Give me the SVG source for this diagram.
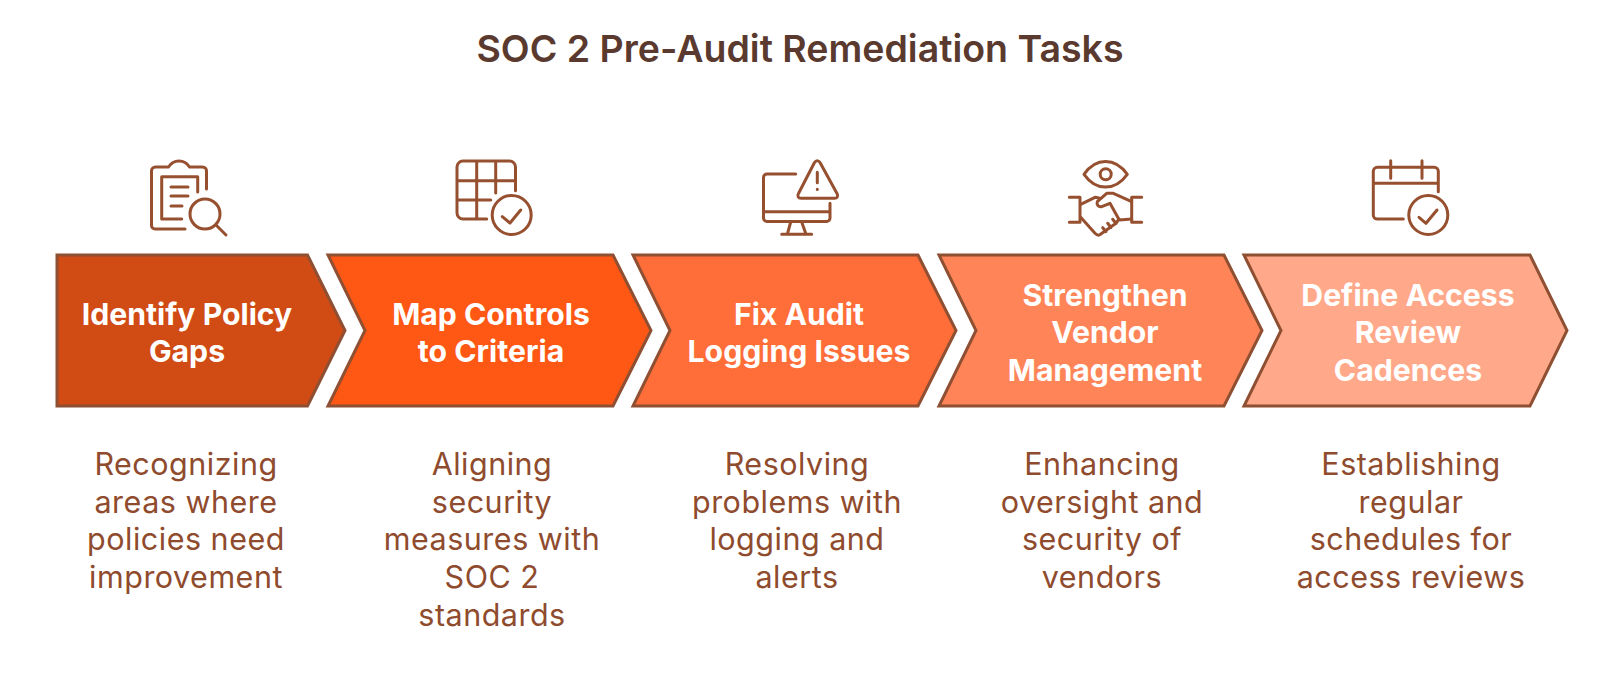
<svg xmlns="http://www.w3.org/2000/svg" width="1600" height="686" viewBox="0 0 1600 686">
<style>
text{font-family:Inter,"Liberation Sans",sans-serif;text-anchor:middle}
.t{font-size:37.500px;font-weight:600;fill:#5a3a2e}
.h{font-size:30.200px;font-weight:700;fill:#fff}
.d{font-size:30.500px;font-weight:400;fill:#8f4b2d;letter-spacing:.5px}
.s{stroke:#8f4f32;stroke-width:3}
.i{fill:none;stroke:#96502f;stroke-width:3;stroke-linecap:round;stroke-linejoin:round}
</style>
<rect width="1600" height="686" fill="#fff"/>
<text class="t" x="800" y="62">SOC 2 Pre-Audit Remediation Tasks</text>
<g id="connectors"/>
<g id="node1">
<path class="i" d="M185 229H155a3.500 3.500 0 0 1-3.500-3.500V171a4 4 0 0 1 4-4h13c5-8 16-8 21 0h13a4 4 0 0 1 4 4v18M197.700 192V176.700H161.700V219h20M171 187h17M171 196h17M171 206h11"/>
<circle class="i" cx="205" cy="214" r="15"/><path class="i" d="M216 225l10 10"/>
<path class="s" fill="#d14b14" d="M57 255H307.500L345 330.500 307.500 406H57Z"/>
<text class="h"><tspan x="187" y="325">Identify Policy</tspan><tspan x="187" y="362">Gaps</tspan></text>
<text class="d"><tspan x="186" y="475">Recognizing</tspan><tspan x="186" y="513">areas where</tspan><tspan x="186" y="550">policies need</tspan><tspan x="186" y="588">improvement</tspan></text>
</g>
<g id="node2">
<path class="i" d="M486.700 219H463a6 6 0 0 1-6-6V167a6 6 0 0 1 6-6h46.500a6 6 0 0 1 6 6v23.700M457 180.700h58.500M457 200h33.700M476.700 161v58M495.700 161v32"/>
<circle class="i" cx="511.700" cy="215" r="19.500"/><path class="i" d="M502.300 216.700l7.700 6.300 10.700-13"/>
<path class="s" fill="#ff5714" d="M328 255H613L651 330.500 613 406H328L365 330.500Z"/>
<text class="h"><tspan x="491" y="325">Map Controls</tspan><tspan x="491" y="362">to Criteria</tspan></text>
<text class="d"><tspan x="492" y="475">Aligning</tspan><tspan x="492" y="513">security</tspan><tspan x="492" y="550">measures with</tspan><tspan x="492" y="588">SOC 2</tspan><tspan x="492" y="626">standards</tspan></text>
</g>
<g id="node3">
<path class="i" d="M795.700 174H767a3.500 3.500 0 0 0-3.500 3.500V218a3.500 3.500 0 0 0 3.500 3.500H826.500a3.500 3.500 0 0 0 3.500-3.500V203.300M763.500 211.700h66.500M790.700 222l-3.400 12.300M801.700 222l4.300 12.300M781.700 234.300h30"/>
<path class="i" d="M814.500 162.500c1.500-2.400 4-2.400 5.500 0l17 31c1.500 2.600.3 4.800-2.500 4.800H801c-2.800 0-4-2.200-2.500-4.800ZM817.300 172.300v10.400M817.300 189.300v.2"/>
<path class="s" fill="#ff6d38" d="M633 255H918L956 330.500 918 406H633L670 330.500Z"/>
<text class="h"><tspan x="799" y="325">Fix Audit</tspan><tspan x="799" y="362">Logging Issues</tspan></text>
<text class="d"><tspan x="797" y="475">Resolving</tspan><tspan x="797" y="513">problems with</tspan><tspan x="797" y="550">logging and</tspan><tspan x="797" y="588">alerts</tspan></text>
</g>
<g id="node4">
<path class="i" d="M1084 174.300c12-17 31-17 43.300 0-12.300 17-31.300 17-43.300 0Z"/><circle class="i" cx="1105.700" cy="174.300" r="5.500"/>
<path class="i" d="M1069.300 197.300h10.700V222.300H1069.300M1141.700 197.300h-10V222.300H1141.700"/>
<path class="i" d="M1080.700 204.300l14.300-7 4 .7M1131.700 201.700l-18.400-8.400h-6.600l-9.400 8.400c-1 3 1 5.500 4.400 5l8.300-3.400 8.300 15M1119.300 220l12.400-1M1080.700 217.300l14.300 16c2 2 4 2.500 5.500 1l15.500-11 3-4.500M1102.700 227.700l3.300 4M1107.700 223.300l3.300 4.200M1112.700 219.300l3.300 4.200"/>
<path class="s" fill="#ff8559" d="M939 255H1224L1262 330.500 1224 406H939L976 330.500Z"/>
<text class="h"><tspan x="1105" y="306">Strengthen</tspan><tspan x="1105" y="343">Vendor</tspan><tspan x="1105" y="381">Management</tspan></text>
<text class="d"><tspan x="1102" y="475">Enhancing</tspan><tspan x="1102" y="513">oversight and</tspan><tspan x="1102" y="550">security of</tspan><tspan x="1102" y="588">vendors</tspan></text>
</g>
<g id="node5">
<path class="i" d="M1438.300 191.700V171.300a4 4 0 0 0-4-4H1377.300a4 4 0 0 0-4 4V215a4 4 0 0 0 4 4H1403.300M1373.300 183.300h65M1390.700 160.700v17.600M1422 160.700v17.600"/>
<circle class="i" cx="1428.300" cy="215" r="19.500"/><path class="i" d="M1419 217.300l7 6 11-13.300"/>
<path class="s" fill="#ffa98a" d="M1244 255H1530L1567 330.500 1530 406H1244L1281 330.500Z"/>
<text class="h"><tspan x="1408" y="306">Define Access</tspan><tspan x="1408" y="343">Review</tspan><tspan x="1408" y="381">Cadences</tspan></text>
<text class="d"><tspan x="1411" y="475">Establishing</tspan><tspan x="1411" y="513">regular</tspan><tspan x="1411" y="550">schedules for</tspan><tspan x="1411" y="588">access reviews</tspan></text>
</g>
</svg>
